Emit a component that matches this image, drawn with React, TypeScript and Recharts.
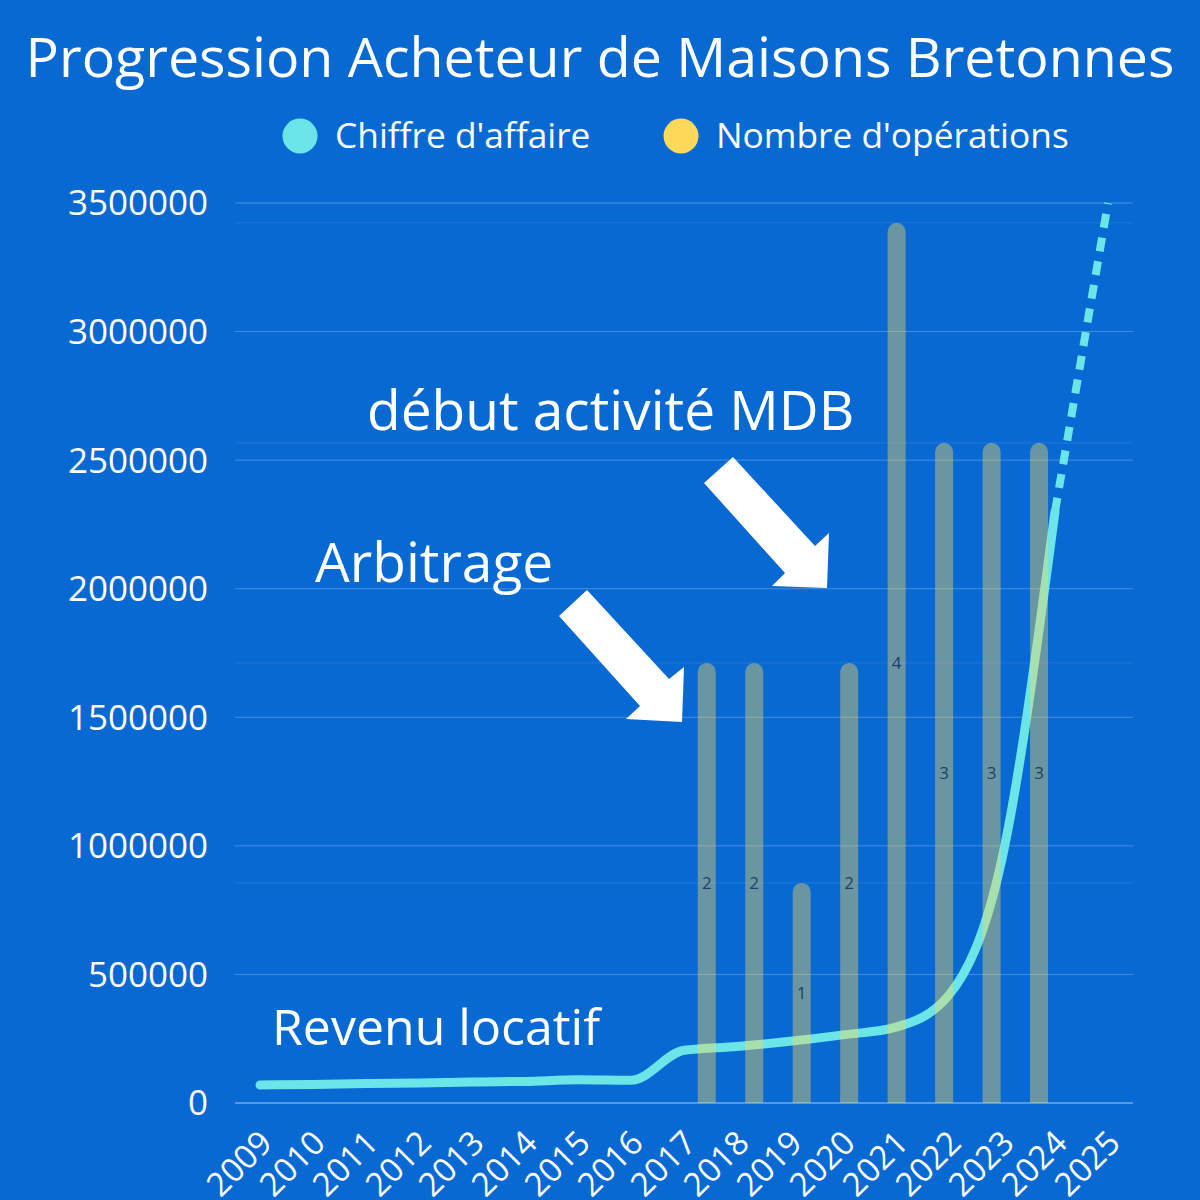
import React from 'react';
import { ComposedChart, Line, Bar, XAxis, YAxis, CartesianGrid, LabelList, Legend } from 'recharts';

const years = ['2009', '2010', '2011', '2012', '2013', '2014', '2015', '2016', '2017', '2018', '2019', '2020', '2021', '2022', '2023', '2024', '2025'];
const chiffreAffaire = [70000, 72000, 76000, 78000, 82000, 84000, 90000, 88000, 205000, 220000, 240000, 265000, 295000, 420000, 950000, 2300000, null];
const projection = [null, null, null, null, null, null, null, null, null, null, null, null, null, null, null, 2300000, 3500000];
const operations = [null, null, null, null, null, null, null, null, 2, 2, 1, 2, 4, 3, 3, 3, null];
const yTicks = [0, 500000, 1000000, 1500000, 2000000, 2500000, 3000000, 3500000];
const opsGridTicks = [1, 2, 3, 4];

const data = years.map((year, i) => ({
  year,
  ca: chiffreAffaire[i],
  projection: projection[i],
  ops: operations[i],
}));

const FONT = "'Open Sans', 'Noto Sans', sans-serif";
const CYAN = '#6CE5E8';
const YELLOW = '#FFD95A';
const BG = '#0869D3';

const XTick = (props: any) => {
  const { x, y, payload } = props;
  const ax = x + 14;
  const ay = y + 42;
  return (
    <text x={ax} y={ay} transform={`rotate(-45 ${ax} ${ay})`} textAnchor="end" fill="#fff" fontSize={33} fontFamily={FONT}>
      {payload.value}
    </text>
  );
};

const legendX = [300, 681];

const LegendContent = (props: any) => {
  const items = (props.payload || []).filter((p: any) => p.type !== 'none');
  return (
    <svg width={1200} height={70} style={{ display: 'block' }}>
      {items.map((item: any, i: number) => (
        <g key={item.value}>
          <circle cx={legendX[i]} cy={36} r={17.5} fill={item.color} />
          <text x={legendX[i] + 35} y={48} fill="#fff" fontSize={35.3} fontFamily={FONT}>
            {item.value}
          </text>
        </g>
      ))}
    </svg>
  );
};

export default function App() {
  return (
    <div style={{ position: 'absolute', left: 0, top: 0, width: 1200, height: 1200, background: BG, overflow: 'hidden', fontFamily: FONT }}>
      <ComposedChart width={1200} height={1200} data={data} margin={{ top: 133, right: 67, bottom: 0, left: 0 }}>
        <CartesianGrid yAxisId="ops" xAxisId="line" vertical={false} horizontalValues={opsGridTicks} stroke="#fff" strokeOpacity={0.1} strokeWidth={1} />
        <CartesianGrid yAxisId="ca" xAxisId="line" vertical={false} stroke="#fff" strokeOpacity={0.25} strokeWidth={1} />
        <XAxis
          xAxisId="line"
          dataKey="year"
          scale="point"
          padding={{ left: 25, right: 25 }}
          height={97}
          interval={0}
          tickLine={false}
          tickSize={0}
          tickMargin={0}
          axisLine={{ stroke: '#fff', strokeOpacity: 0.45 }}
          tick={<XTick />}
        />
        <XAxis xAxisId="bar" dataKey="year" scale="band" hide orientation="top" padding={{ left: 68, right: 23 }} />
        <YAxis
          yAxisId="ca"
          width={235}
          domain={[0, 3500000]}
          ticks={yTicks}
          interval={0}
          axisLine={false}
          tickLine={false}
          tickSize={0}
          tickMargin={27}
          tick={{ fill: '#fff', fontSize: 35, fontFamily: FONT }}
        />
        <YAxis yAxisId="ops" orientation="right" hide domain={[0, 4.09]} ticks={opsGridTicks} />
        <Legend verticalAlign="top" align="left" wrapperStyle={{ position: 'absolute', top: 100, left: 0, width: 1200, height: 70 }} content={<LegendContent />} />
        <Line
          xAxisId="line"
          yAxisId="ca"
          type="monotone"
          dataKey="ca"
          name="Chiffre d'affaire"
          stroke={CYAN}
          strokeWidth={9}
          strokeLinecap="round"
          dot={false}
          activeDot={false}
          legendType="circle"
          isAnimationActive={false}
        />
        <Line
          xAxisId="line"
          yAxisId="ca"
          type="linear"
          dataKey="projection"
          stroke={CYAN}
          strokeWidth={8}
          strokeDasharray="14 10"
          dot={false}
          activeDot={false}
          legendType="none"
          isAnimationActive={false}
        />
        <Bar
          xAxisId="bar"
          yAxisId="ops"
          dataKey="ops"
          name="Nombre d'opérations"
          fill={YELLOW}
          fillOpacity={0.4}
          barSize={18}
          radius={[9, 9, 0, 0]}
          legendType="circle"
          isAnimationActive={false}
          zIndex={450}
        >
          <LabelList dataKey="ops" position="center" fill="#1f3d6e" fontSize={17} fontFamily={FONT} />
        </Bar>
      </ComposedChart>
      <svg width={1200} height={1200} style={{ position: 'absolute', left: 0, top: 0, pointerEvents: 'none' }}>
        <text x={600} y={77} textAnchor="middle" fill="#fff" fontSize={55.5} fontFamily={FONT}>
          Progression Acheteur de Maisons Bretonnes
        </text>
        <text x={367} y={430} fill="#fff" fontSize={55} fontFamily={FONT}>début activité MDB</text>
        <text x={315} y={582} fill="#fff" fontSize={55} fontFamily={FONT}>Arbitrage</text>
        <text x={272} y={1045} fill="#fff" fontSize={50} fontFamily={FONT}>Revenu locatif</text>
        <polygon fill="#fff" points="704,483 733,457 815,546 829,533 827,588 772,586 785,573" />
        <polygon fill="#fff" points="559,616 587,590 669,679 684,667 682,722 626,719 640,706" />
      </svg>
    </div>
  );
}
